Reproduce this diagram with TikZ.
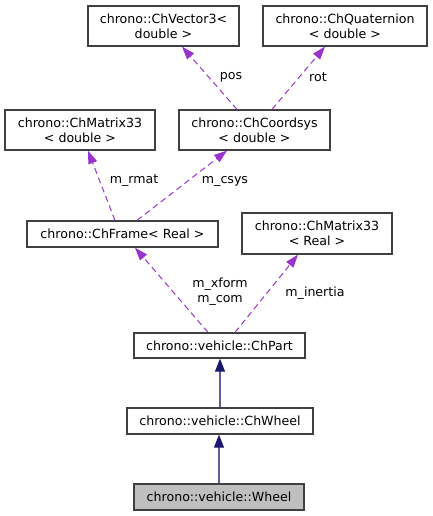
\documentclass[tikz,border=0pt]{standalone}
\usepackage{fontspec}
\setmainfont{DejaVu Sans}
\usetikzlibrary{arrows.meta,calc}
\definecolor{edgepurple}{HTML}{9A32CD}
\definecolor{navy}{HTML}{191970}
\definecolor{boxgray}{HTML}{404040}
\definecolor{fillgray}{HTML}{BFBFBF}
\begin{document}
\begin{tikzpicture}[x=1pt,y=-1pt,
  every node/.style={font=\fontsize{12.6}{15}\selectfont},
  cls/.style={draw=boxgray,line width=1.3pt,fill=white,inner sep=0pt,align=center},
  usage/.style={draw=edgepurple,line width=1pt,dash pattern=on 6pt off 4pt,
    -{Triangle[length=13pt,width=9pt,fill=edgepurple]}},
  inherit/.style={draw=navy!70!white,line width=1.1pt,
    -{Triangle[length=13pt,width=10pt,fill=navy,color=navy]}},
  lbl/.style={inner sep=0pt,align=center}]
\useasboundingbox (0,0) rectangle (432,516);
\node[cls,minimum width=151pt,minimum height=40pt] (vec) at (163.5,26) {chrono::ChVector3<\\double >};
\node[cls,minimum width=164pt,minimum height=40pt] (quat) at (345,26) {chrono::ChQuaternion\\< double >};
\node[cls,minimum width=150pt,minimum height=40pt] (m33d) at (80,130) {chrono::ChMatrix33\\< double >};
\node[cls,minimum width=151pt,minimum height=40pt] (csys) at (254.5,130) {chrono::ChCoordsys\\< double >};
\node[cls,minimum width=191pt,minimum height=26pt] (frame) at (122.5,234) {chrono::ChFrame< Real >};
\node[cls,minimum width=150pt,minimum height=41pt] (m33r) at (317,233.5) {chrono::ChMatrix33\\< Real >};
\node[cls,minimum width=171pt,minimum height=25pt] (part) at (219.5,345.5) {chrono::vehicle::ChPart};
\node[cls,minimum width=186pt,minimum height=26pt] (chwheel) at (220,421) {chrono::vehicle::ChWheel};
\node[cls,fill=fillgray,minimum width=170pt,minimum height=26pt] (wheel) at (219,497) {chrono::vehicle::Wheel};
\draw[usage] ([xshift=-17.5pt]csys.north) -- ([xshift=18.5pt]vec.south);
\draw[usage] ([xshift=17.5pt]csys.north) -- ([xshift=-20pt]quat.south);
\draw[usage] ([xshift=-7.5pt]frame.north) -- ([xshift=8pt]m33d.south);
\draw[usage] ([xshift=14.5pt]frame.north) -- ([xshift=-27.5pt]csys.south);
\draw[usage] ([xshift=-11.5pt]part.north) -- ([xshift=12.5pt]frame.south);
\draw[usage] ([xshift=15.5pt]part.north) -- ([xshift=-19pt]m33r.south);
\draw[inherit] (chwheel.north) -- (chwheel.north |- part.south);
\draw[inherit] (wheel.north) -- (wheel.north |- chwheel.south);
\node[lbl] (lpos) at (231,77) {pos};
\node[lbl] (lrot) at (318,77) {rot};
\node[lbl] (lrmat) at (134,181) {m\_rmat};
\node[lbl] (lcsys) at (225,181) {m\_csys};
\node[lbl] (lxform) at (220,291.5) {m\_xform\\m\_com};
\node[lbl] (linertia) at (315,293) {m\_inertia};
\end{tikzpicture}
\end{document}
